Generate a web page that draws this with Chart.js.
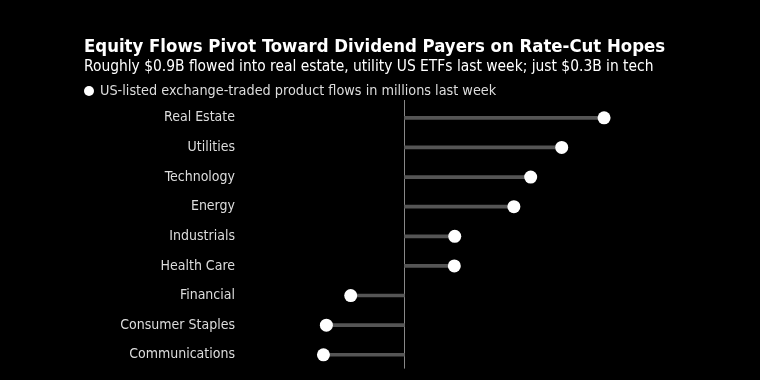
<!DOCTYPE html>
<html>
<head>
<meta charset="utf-8">
<script src="https://cdn.jsdelivr.net/npm/chart.js@4/dist/chart.umd.min.js"></script>
<style>
  html, body { margin: 0; padding: 0; background: #000; }
  body { width: 760px; height: 380px; position: relative; overflow: hidden; font-family: "DejaVu Sans Condensed", "DejaVu Sans", sans-serif; }
  #chart { position: absolute; left: 0; top: 0; }
  .title { position: absolute; left: 84px; top: 35px; color: #fff; font-weight: bold; font-size: 18.4px; white-space: nowrap; }
  .sub { position: absolute; left: 84px; top: 57px; color: #fff; font-size: 15.4px; white-space: nowrap; }
  .legend { position: absolute; left: 84px; top: 82px; color: #ddd; font-size: 14.3px; white-space: nowrap; }
  .legend .dot { display: inline-block; width: 10px; height: 10px; border-radius: 50%; background: #fff; margin-right: 6px; vertical-align: -1px; }
</style>
</head>
<body>
<canvas id="chart" width="760" height="380"></canvas>
<div class="title">Equity Flows Pivot Toward Dividend Payers on Rate-Cut Hopes</div>
<div class="sub">Roughly $0.9B flowed into real estate, utility US ETFs last week; just $0.3B in tech</div>
<div class="legend"><span class="dot"></span>US-listed exchange-traded product flows in millions last week</div>
<script>
// Data
const sectors = ['Real Estate', 'Utilities', 'Technology', 'Energy', 'Industrials',
    'Health Care', 'Financial', 'Consumer Staples', 'Communications'];
const flows = [476, 375, 301, 261, 120, 119, -128, -186, -193];

// vertical line at zero, drawn before the stems
const zeroLine = {
    id: 'zeroLine',
    beforeDatasetsDraw(chart) {
        const x = Math.round(chart.scales.x.getPixelForValue(0)) + 0.5;
        const area = chart.chartArea;
        const c = chart.ctx;
        c.save();
        c.strokeStyle = '#888';
        c.lineWidth = 1;
        c.beginPath();
        c.moveTo(x, area.top - 3);
        c.lineTo(x, area.bottom - 1);
        c.stroke();
        c.restore();
    }
};

const ctx = document.getElementById('chart').getContext('2d');
new Chart(ctx, {
    type: 'bar',
    data: {
        labels: sectors,
        datasets: [{
            type: 'line',
            label: 'Flows',
            data: flows,
            indexAxis: 'y',
            showLine: false,
            pointRadius: 6.5,
            pointBackgroundColor: '#fff',
            pointBorderWidth: 0,
            order: 0
        }, {
            label: 'Stem',
            data: flows,
            backgroundColor: '#555',
            barThickness: 3,
            order: 1
        }]
    },
    options: {
        indexAxis: 'y',
        responsive: false,
        animation: false,
        layout: { autoPadding: false, padding: { top: 103, bottom: 3, left: 0, right: 20 } },
        plugins: { legend: { display: false }, tooltip: { enabled: false } },
        scales: {
            x: {
                display: false,
                min: -380,
                max: 800
            },
            y: {
                border: { display: false },
                grid: { display: false },
                ticks: {
                    color: '#ddd',
                    padding: 2,
                    font: { family: '"DejaVu Sans Condensed", "DejaVu Sans", sans-serif', size: 14 }
                },
                afterFit: s => { s.width = 245; }
            }
        }
    },
    plugins: [zeroLine]
});
</script>
</body>
</html>
